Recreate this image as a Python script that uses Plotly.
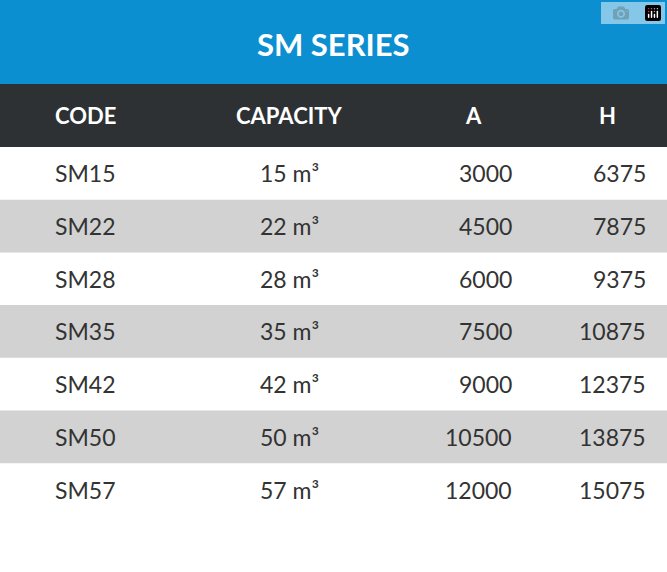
import plotly.graph_objects as go

title = "SM SERIES"
headers = ["CODE", "CAPACITY", "A", "H"]
codes = ["SM15", "SM22", "SM28", "SM35", "SM42", "SM50", "SM57"]
capacity = [15, 22, 28, 35, 42, 50, 57]
a_vals = [3000, 4500, 6000, 7500, 9000, 10500, 12000]
h_vals = [6375, 7875, 9375, 10875, 12375, 13875, 15075]

W, H = 667, 572
blue = "#0b8fd1"
dark = "#2e3134"
font = "Lato, Noto Sans"

title_h = 84
head_h = 63
row_h = 52.7
head_x = [85, 289, 473, 607]
cell_x = [85, 289, 514, 648]
cell_anchor = ["center", "center", "right", "right"]

fig = go.Figure()
fig.add_shape(type="rect", x0=0, x1=W, y0=0, y1=title_h, fillcolor=blue, line_width=0)
fig.add_shape(type="rect", x0=0, x1=W, y0=title_h, y1=title_h + head_h,
              fillcolor=dark, line_width=0)
fig.add_annotation(text="<b>%s</b>" % title, x=W / 2, y=title_h / 2 + 2, showarrow=False,
                   font=dict(family=font, size=31, color="white"))
for hx, hd in zip(head_x, headers):
    fig.add_annotation(text="<b>%s</b>" % hd, x=hx, y=title_h + head_h / 2, showarrow=False,
                       font=dict(family=font, size=22, color="white"))

top = title_h + head_h
for i in range(len(codes)):
    y0 = top + i * row_h
    if i % 2 == 1:
        fig.add_shape(type="rect", x0=0, x1=W, y0=y0, y1=y0 + row_h,
                      fillcolor="#d2d2d2", line_width=0)
    vals = [codes[i], "%d m³" % capacity[i], str(a_vals[i]), str(h_vals[i])]
    for cx, anc, v in zip(cell_x, cell_anchor, vals):
        fig.add_annotation(text=v, x=cx, y=y0 + row_h / 2, xanchor=anc, showarrow=False,
                           font=dict(family=font, size=23, color="#333333"))

fig.update_xaxes(range=[0, W], visible=False, fixedrange=True)
fig.update_yaxes(range=[H, 0], visible=False, fixedrange=True)
fig.update_layout(width=W, height=H, margin=dict(l=0, r=0, t=0, b=0),
                  paper_bgcolor="white", plot_bgcolor="white", showlegend=False)
fig.write_html("out.html", post_script="document.body.style.margin='0';")
